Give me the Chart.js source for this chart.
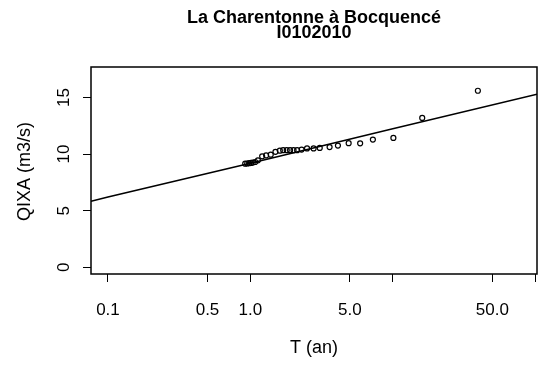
<!DOCTYPE html>
<html>
<head>
<meta charset="utf-8">
<script src="https://cdn.jsdelivr.net/npm/chart.js@4"></script>
<style>
  html, body { margin: 0; padding: 0; background: #fff; }
  canvas { display: block; }
</style>
</head>
<body>
<canvas id="grafico" width="548" height="365"></canvas>
<script>
// ===== Datos =====
const titulo = ["La Charentonne à Bocquencé", "I0102010"];
const tituloX = "T (an)";
const tituloY = "QIXA (m3/s)";

// periodos de retorno observados (an) y caudales (m3/s)
const obsT = [0.92, 0.95, 0.98, 1.01, 1.04, 1.08, 1.13, 1.21, 1.29, 1.39, 1.50, 1.61, 1.70, 1.80, 1.90,
  2.01, 2.13, 2.29, 2.50, 2.78, 3.07, 3.6, 4.12, 4.9, 5.9, 7.25, 10.1, 16.1, 39.6];
const obsQ = [9.15, 9.17, 9.2, 9.22, 9.25, 9.3, 9.45, 9.8, 9.88, 9.95, 10.2, 10.3, 10.35, 10.35, 10.35,
  10.35, 10.35, 10.4, 10.5, 10.5, 10.55, 10.62, 10.75, 10.97, 10.95, 11.28, 11.43, 13.2, 15.6];

// recta de ajuste
const ajusteT = [0.076, 0.1, 1, 10, 103];
const ajusteQ = [5.82, 6.2, 9.2, 12.25, 15.3];

const xTicks = [0.1, 0.5, 1, 5, 10, 50, 100];
const xTickLabels = ["0.1", "0.5", "1.0", "5.0", "", "50.0", ""];
const yTicks = [0, 5, 10, 15];
const yTickLabels = ["0", "5", "10", "15"];

const fuente = "'Liberation Sans', Arial, sans-serif";

// ===== Plugin: caja, títulos y etiquetas del eje Y =====
const estiloR = {
  id: "estiloR",
  afterDraw(chart) {
    const { ctx, chartArea: a, scales } = chart;
    ctx.save();
    ctx.strokeStyle = "#000";
    ctx.lineWidth = 1.5;
    ctx.strokeRect(a.left, a.top, a.right - a.left, a.bottom - a.top);

    ctx.fillStyle = "#000";
    ctx.textAlign = "center";
    ctx.textBaseline = "middle";
    const cx = (a.left + a.right) / 2;

    ctx.font = "bold 18px " + fuente;
    ctx.fillText(titulo[0], cx, 18);
    ctx.fillText(titulo[1], cx, 33.5);

    ctx.font = "18px " + fuente;
    ctx.fillText(tituloX, cx, 348);

    // etiquetas Y giradas
    ctx.font = "17px " + fuente;
    yTicks.forEach((v, i) => {
      const y = scales.y.getPixelForValue(v);
      ctx.save();
      ctx.translate(64, y);
      ctx.rotate(-Math.PI / 2);
      ctx.fillText(yTickLabels[i], 0, 0);
      ctx.restore();
    });

    ctx.font = "18px " + fuente;
    ctx.save();
    ctx.translate(25, (a.top + a.bottom) / 2 + 1);
    ctx.rotate(-Math.PI / 2);
    ctx.fillText(tituloY, 0, 0);
    ctx.restore();
    ctx.restore();
  }
};

const ctx = document.getElementById("grafico").getContext("2d");
new Chart(ctx, {
  type: "scatter",
  data: {
    datasets: [
      {
        label: "ajuste",
        data: ajusteT.map((t, i) => ({ x: t, y: ajusteQ[i] })),
        showLine: true,
        borderColor: "#000",
        borderWidth: 1.5,
        pointRadius: 0,
        tension: 0
      },
      {
        label: "observado",
        data: obsT.map((t, i) => ({ x: t, y: obsQ[i] })),
        showLine: false,
        borderColor: "#000",
        backgroundColor: "rgba(0,0,0,0)",
        borderWidth: 1.2,
        pointRadius: 2.5
      }
    ]
  },
  options: {
    responsive: false,
    animation: false,
    layout: { padding: { left: 0, right: 11, top: 67, bottom: 31 } },
    plugins: { legend: { display: false }, tooltip: { enabled: false }, title: { display: false } },
    scales: {
      x: {
        type: "logarithmic",
        min: 0.076,
        max: 103,
        afterBuildTicks: s => { s.ticks = xTicks.map(v => ({ value: v })); },
        afterFit: s => { s.height = 60; s.paddingLeft = 0; s.paddingRight = 0; },
        grid: { drawOnChartArea: false, drawTicks: true, tickLength: 8, color: "#000", lineWidth: 1 },
        border: { display: false },
        ticks: {
          color: "#000",
          font: { family: fuente, size: 17 },
          padding: 18,
          maxRotation: 0,
          autoSkip: false,
          callback: (v, i) => xTickLabels[i]
        }
      },
      y: {
        type: "linear",
        min: -0.6,
        max: 17.7,
        afterBuildTicks: s => { s.ticks = yTicks.map(v => ({ value: v })); },
        afterFit: s => { s.width = 91; s.paddingTop = 0; s.paddingBottom = 0; },
        grid: { drawOnChartArea: false, drawTicks: true, tickLength: 8, color: "#000", lineWidth: 1 },
        border: { display: false },
        ticks: { display: false }
      }
    }
  },
  plugins: [estiloR]
});
</script>
</body>
</html>
